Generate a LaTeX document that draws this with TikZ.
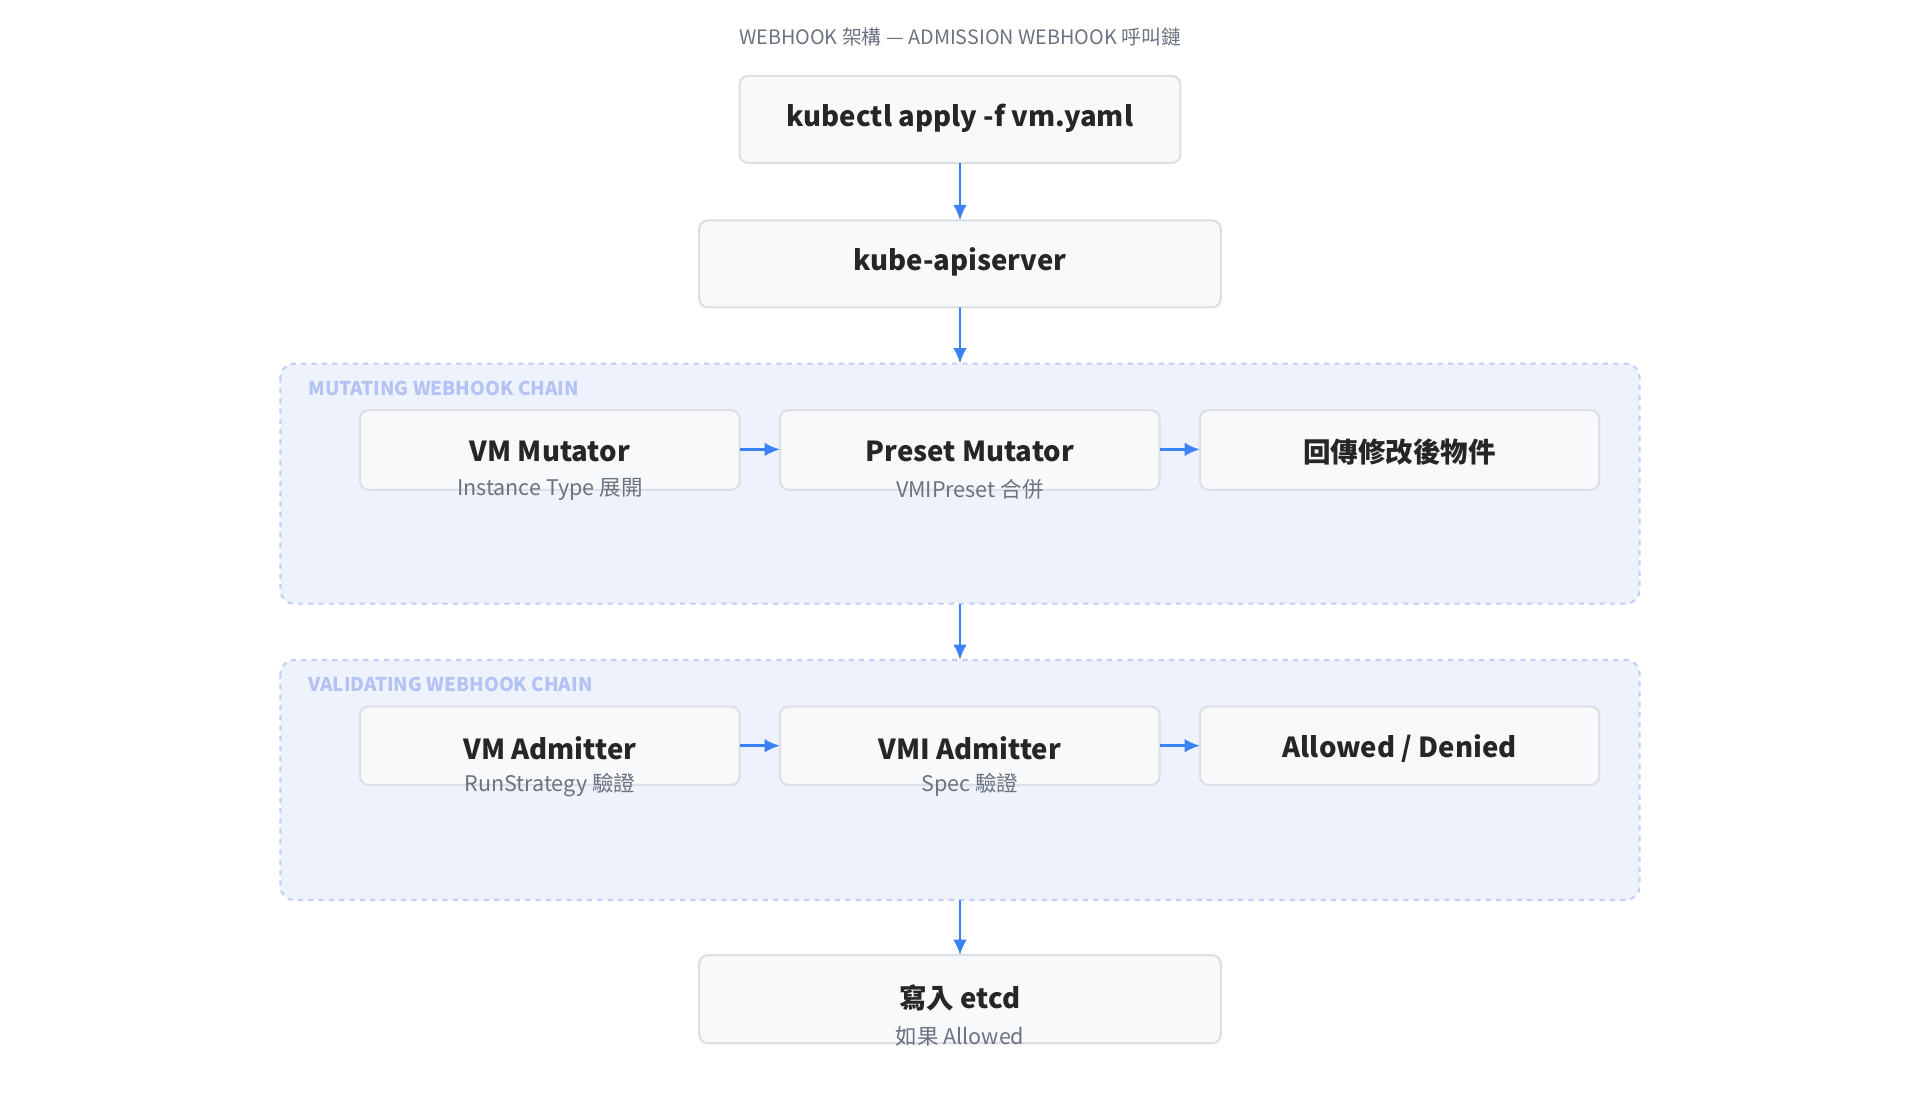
\documentclass[tikz,border=0pt]{standalone}
\usepackage{fontspec}
\setmainfont{Noto Sans CJK TC}
\usetikzlibrary{arrows.meta}
\definecolor{boxfill}{HTML}{F8F9FB}
\definecolor{boxline}{HTML}{DDDFE4}
\definecolor{grpfill}{HTML}{EEF2FD}
\definecolor{grpline}{HTML}{C2CEF8}
\definecolor{grplabel}{HTML}{B4C2F4}
\definecolor{arrowblue}{HTML}{3B82F6}
\definecolor{subgray}{HTML}{6B7280}
\definecolor{titlegray}{HTML}{6B7280}
\tikzset{
    box/.style={draw=boxline, line width=1.2pt, fill=boxfill, rounded corners=5pt},
    group/.style={draw=grpline, line width=1.2pt, dashed, fill=grpfill, rounded corners=8pt},
    main/.style={font=\fontsize{16}{18}\selectfont\bfseries, text=black!85},
    sub/.style={font=\fontsize{12.5}{14}\selectfont, text=subgray},
    grptitle/.style={font=\fontsize{11}{13}\selectfont\bfseries, text=grplabel, anchor=west},
    flow/.style={-{Latex[length=9pt,width=8pt]}, draw=arrowblue, line width=1.6pt},
}
\begin{document}
\begin{tikzpicture}[x=0.025cm, y=-0.025cm]
    \useasboundingbox (0, 0) rectangle (1568, 900);

    \node[font=\fontsize{11.5}{13}\selectfont, text=titlegray] (title) at (784, 30) {WEBHOOK 架構 — ADMISSION WEBHOOK 呼叫鏈};

    % top boxes
    \draw[box] (604, 62) rectangle (964, 133);
    \node[main] (kubectl) at (784, 97) {kubectl apply -f vm.yaml};
    \coordinate (kubectlS) at (784, 133);
    \draw[box] (571, 180) rectangle (997, 251);
    \node[main] (api) at (784, 214) {kube-apiserver};
    \coordinate (apiN) at (784, 180);
    \coordinate (apiS) at (784, 251);

    % mutating chain
    \draw[group] (229, 297) rectangle (1339, 493);
    \node[grptitle] (mutlbl) at (247, 317) {MUTATING WEBHOOK CHAIN};
    \coordinate (mutN) at (784, 297);
    \coordinate (mutS) at (784, 493);
    \draw[box] (294, 335) rectangle (604, 400);
    \draw[box] (637, 335) rectangle (947, 400);
    \draw[box] (980, 335) rectangle (1306, 400);
    \node[main] (vmmut) at (449, 369) {VM Mutator};
    \node[sub] (vmmutsub) at (449, 400) {Instance Type 展開};
    \node[main] (premut) at (792, 369) {Preset Mutator};
    \node[sub] (premutsub) at (792, 400) {VMIPreset 合併};
    \node[main] (mutret) at (1143, 369) {回傳修改後物件};
    \coordinate (m1E) at (604, 367);
    \coordinate (m2W) at (637, 367);
    \coordinate (m2E) at (947, 367);
    \coordinate (m3W) at (980, 367);

    % validating chain
    \draw[group] (229, 539) rectangle (1339, 735);
    \node[grptitle] (vallbl) at (247, 559) {VALIDATING WEBHOOK CHAIN};
    \coordinate (valN) at (784, 539);
    \coordinate (valS) at (784, 735);
    \draw[box] (294, 577) rectangle (604, 641);
    \draw[box] (637, 577) rectangle (947, 641);
    \draw[box] (980, 577) rectangle (1306, 641);
    \node[main] (vmadm) at (449, 611) {VM Admitter};
    \node[sub] (vmadmsub) at (449, 641) {RunStrategy 驗證};
    \node[main] (vmiadm) at (792, 611) {VMI Admitter};
    \node[sub] (vmiadmsub) at (792, 641) {Spec 驗證};
    \node[main] (result) at (1143, 611) {Allowed / Denied};
    \coordinate (v1E) at (604, 609);
    \coordinate (v2W) at (637, 609);
    \coordinate (v2E) at (947, 609);
    \coordinate (v3W) at (980, 609);

    % etcd
    \draw[box] (571, 780) rectangle (997, 852);
    \node[main] (etcd) at (784, 815) {寫入 etcd};
    \node[sub] (etcdsub) at (784, 846) {如果 Allowed};
    \coordinate (etcdN) at (784, 780);

    % arrows
    \draw[flow] (kubectlS) -- (apiN);
    \draw[flow] (apiS) -- (mutN);
    \draw[flow] (mutS) -- (valN);
    \draw[flow] (valS) -- (etcdN);
    \draw[flow] (m1E) -- (m2W);
    \draw[flow] (m2E) -- (m3W);
    \draw[flow] (v1E) -- (v2W);
    \draw[flow] (v2E) -- (v3W);
\end{tikzpicture}
\end{document}
